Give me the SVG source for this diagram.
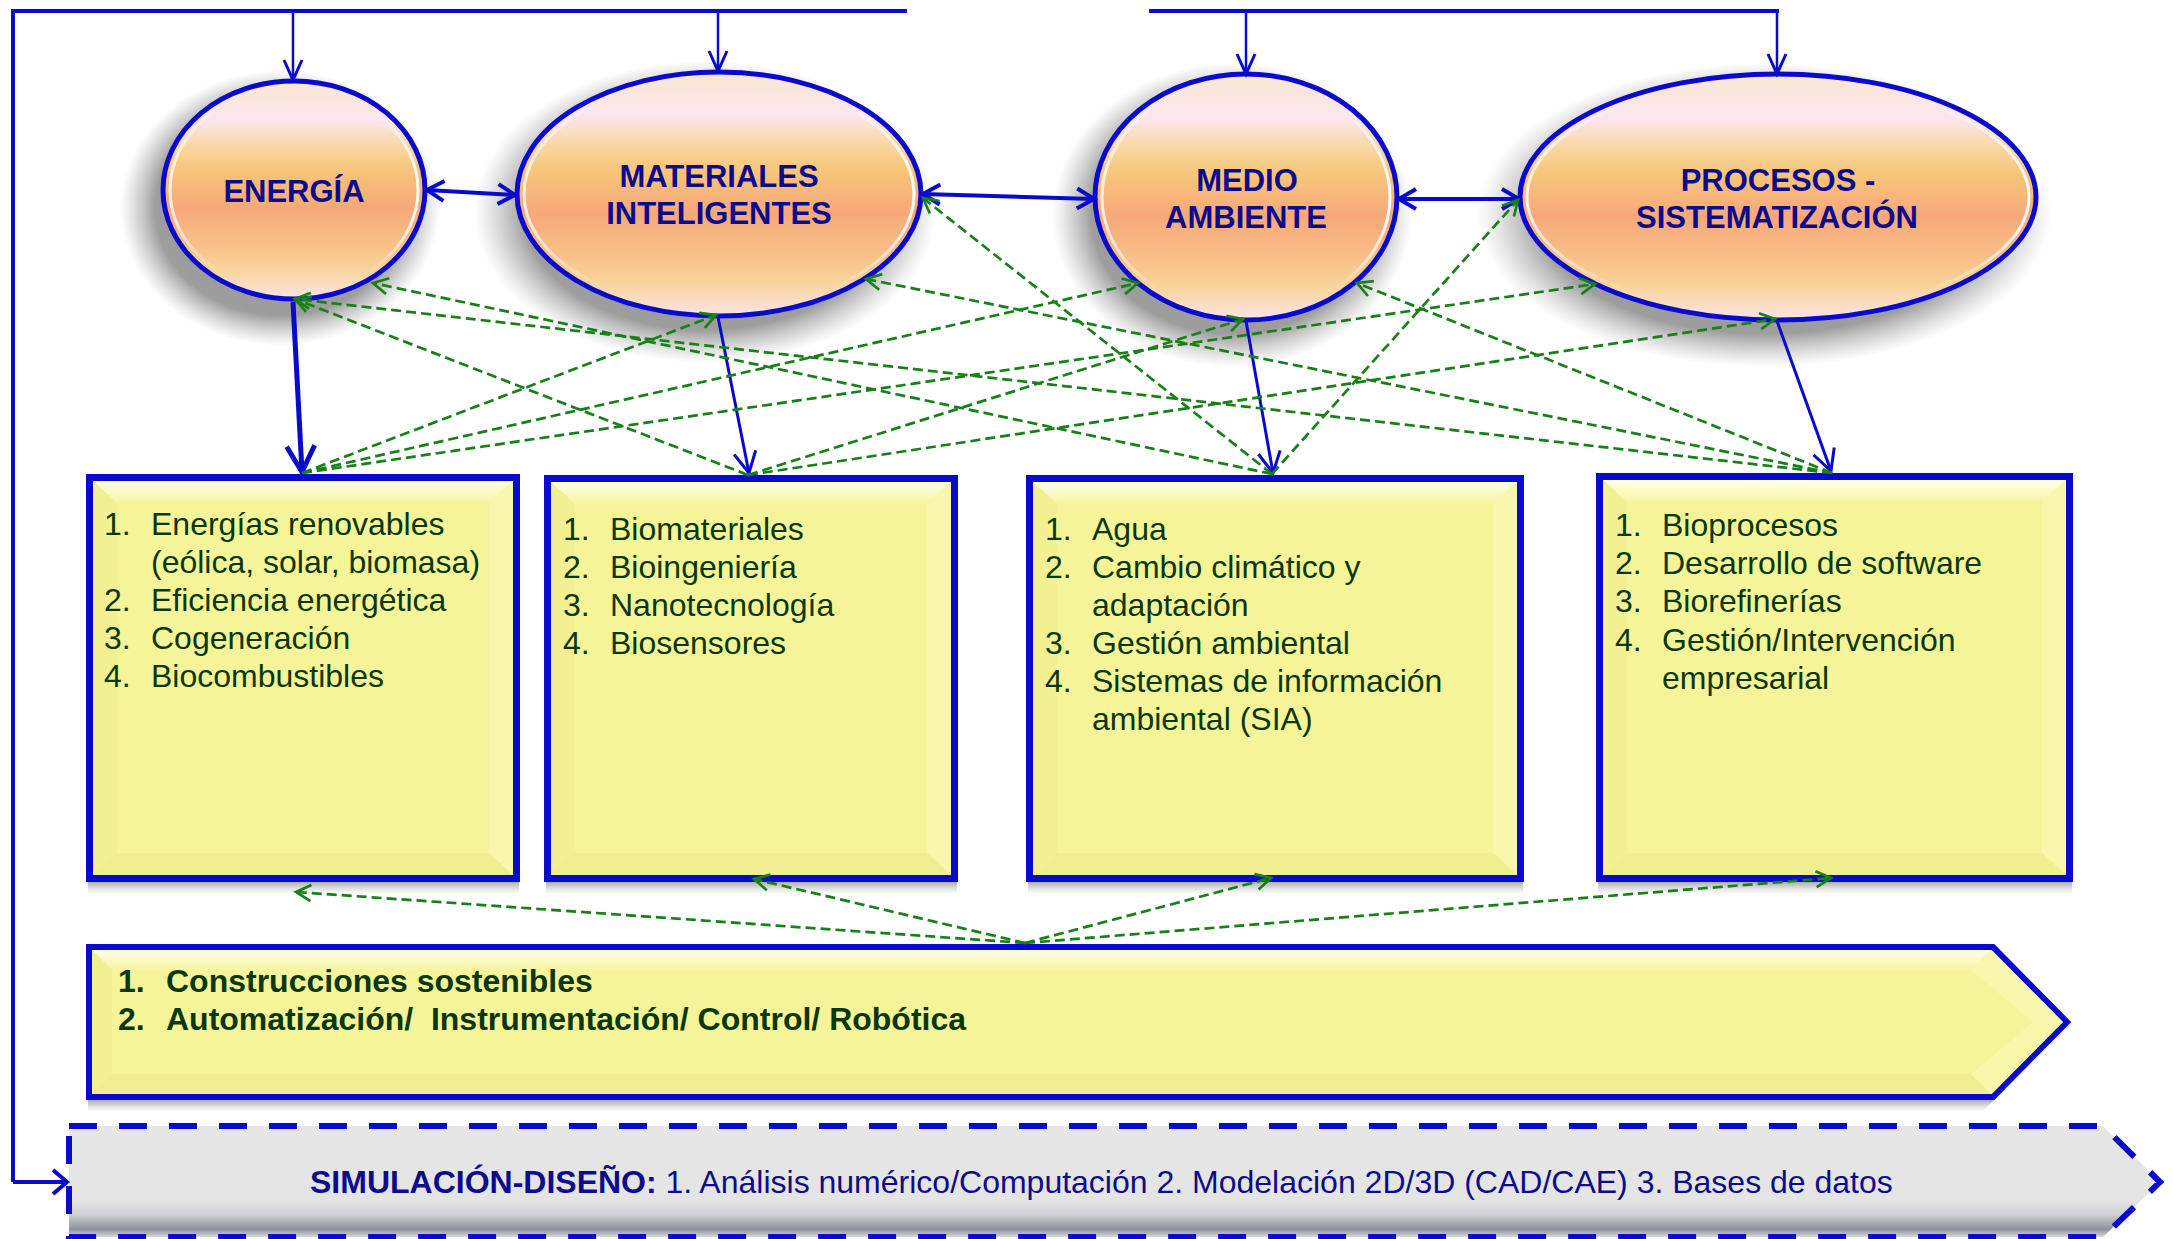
<svg xmlns="http://www.w3.org/2000/svg" width="2173" height="1239" viewBox="0 0 2173 1239">
<style>
.ell{stroke:#0A0ACC;stroke-width:5;fill:url(#gEll)}
.shd{fill:url(#gShd)}
.bshd{fill:url(#gBs)}
.hl{fill:none;stroke:url(#gHl);stroke-width:3}
.et{font-family:"Liberation Sans",Arial,sans-serif;font-weight:bold;font-size:31px;fill:#0C0C8A;text-anchor:middle}
.box{fill:#F5F498;stroke:#0A0ACC;stroke-width:7}
.bt{font-family:"Liberation Sans",Arial,sans-serif;font-size:32px;fill:#0A380A}
.bb{font-family:"Liberation Sans",Arial,sans-serif;font-size:32px;font-weight:bold;fill:#0A380A}
.bl{fill:#F2F093}
.br{fill:#F8F7AC}
.bbt{fill:#F0EE90}
.btp{fill:url(#gTop)}
.blue{fill:none;stroke:#0A0ACC}
.g{fill:none;stroke:#178017;stroke-width:2.7;stroke-dasharray:10 5;marker-end:url(#aG)}
.st{font-family:"Liberation Sans",Arial,sans-serif;font-size:32px;fill:#0C0C8C}
</style>
<defs>
<linearGradient id="gEll" x1="0" y1="0" x2="0" y2="1">
<stop offset="0" stop-color="#FAE6D2"/>
<stop offset="0.18" stop-color="#FCE6EE"/>
<stop offset="0.30" stop-color="#F9D7A2"/>
<stop offset="0.40" stop-color="#F8C67A"/>
<stop offset="0.58" stop-color="#F7A87A"/>
<stop offset="0.75" stop-color="#F8C088"/>
<stop offset="0.86" stop-color="#F8D49A"/>
<stop offset="1" stop-color="#FCE4E4"/>
</linearGradient>
<radialGradient id="gShd" cx="0.5" cy="0.5" r="0.5">
<stop offset="0" stop-color="#8c8c8c" stop-opacity="0.9"/>
<stop offset="0.78" stop-color="#8c8c8c" stop-opacity="0.85"/>
<stop offset="0.9" stop-color="#a0a0a0" stop-opacity="0.4"/>
<stop offset="1" stop-color="#b0b0b0" stop-opacity="0"/>
</radialGradient>
<linearGradient id="gBs" x1="0" y1="0" x2="0" y2="1">
<stop offset="0" stop-color="#8a8a8a" stop-opacity="0.7"/>
<stop offset="1" stop-color="#b0b0b0" stop-opacity="0"/>
</linearGradient>
<linearGradient id="gHl" x1="0" y1="0" x2="1" y2="0">
<stop offset="0" stop-color="#fff" stop-opacity="0.8"/>
<stop offset="0.2" stop-color="#fff" stop-opacity="0"/>
<stop offset="0.8" stop-color="#fff" stop-opacity="0"/>
<stop offset="1" stop-color="#fff" stop-opacity="0.95"/>
</linearGradient>
<linearGradient id="gTop" x1="0" y1="0" x2="0" y2="1">
<stop offset="0" stop-color="#FFFFE6"/>
<stop offset="1" stop-color="#F6F5A2"/>
</linearGradient>
<linearGradient id="gSim" x1="0" y1="0" x2="0" y2="1">
<stop offset="0" stop-color="#E6E6E6"/>
<stop offset="0.68" stop-color="#E4E4E4"/>
<stop offset="0.8" stop-color="#CFD0D4"/>
<stop offset="0.93" stop-color="#8C909C"/>
<stop offset="0.97" stop-color="#B8BABF"/>
<stop offset="1" stop-color="#D8D8D8"/>
</linearGradient>
<marker id="aTop" markerUnits="userSpaceOnUse" markerWidth="1" markerHeight="1" refX="0" refY="0" orient="auto" overflow="visible"><path d="M-20,-9 L0,0 L-20,9" fill="none" stroke="#0A0ACC" stroke-width="3"/></marker>
<marker id="aBi" markerUnits="userSpaceOnUse" markerWidth="1" markerHeight="1" refX="0" refY="0" orient="auto-start-reverse" overflow="visible"><path d="M-17,-10 L0,0 L-17,10" fill="none" stroke="#0A0ACC" stroke-width="4"/></marker>
<marker id="aBig" markerUnits="userSpaceOnUse" markerWidth="1" markerHeight="1" refX="0" refY="0" orient="auto" overflow="visible"><path d="M-26,-14 L0,0 L-26,14" fill="none" stroke="#0A0ACC" stroke-width="5"/></marker>
<marker id="aMid" markerUnits="userSpaceOnUse" markerWidth="1" markerHeight="1" refX="0" refY="0" orient="auto" overflow="visible"><path d="M-21,-11 L0,0 L-21,11" fill="none" stroke="#0A0ACC" stroke-width="3"/></marker>
<marker id="aSim" markerUnits="userSpaceOnUse" markerWidth="1" markerHeight="1" refX="0" refY="0" orient="auto" overflow="visible"><path d="M-14,-12 L0,0 L-14,12" fill="none" stroke="#0A0ACC" stroke-width="4"/></marker>
<marker id="aG" markerUnits="userSpaceOnUse" markerWidth="1" markerHeight="1" refX="0" refY="0" orient="auto" overflow="visible"><path d="M-15,-8 L0,0 L-15,8" fill="none" stroke="#178017" stroke-width="2.7"/></marker>
</defs>
<rect width="2173" height="1239" fill="#fff"/>

<!-- nodes -->
<g id="energia">
<ellipse class="shd" cx="280" cy="208" rx="160" ry="138"/>
<ellipse class="ell" cx="294" cy="190" rx="131" ry="109"/>
<ellipse class="hl" cx="294" cy="190" rx="124" ry="102"/>
<text class="et" x="294" y="202">ENERGÍA</text>
</g>
<g id="materiales">
<ellipse class="shd" cx="705" cy="212" rx="231" ry="151"/>
<ellipse class="ell" cx="719" cy="194" rx="202" ry="122"/>
<ellipse class="hl" cx="719" cy="194" rx="195" ry="115"/>
<text class="et" x="719" y="187">MATERIALES</text>
<text class="et" x="719" y="224">INTELIGENTES</text>
</g>
<g id="medio">
<ellipse class="shd" cx="1232" cy="215" rx="180" ry="152"/>
<ellipse class="ell" cx="1246" cy="197" rx="151" ry="123"/>
<ellipse class="hl" cx="1246" cy="197" rx="144" ry="116"/>
<text class="et" x="1247" y="191">MEDIO</text>
<text class="et" x="1246" y="228">AMBIENTE</text>
</g>
<g id="procesos">
<ellipse class="shd" cx="1764" cy="215" rx="287" ry="152"/>
<ellipse class="ell" cx="1778" cy="197" rx="258" ry="123"/>
<ellipse class="hl" cx="1778" cy="197" rx="251" ry="116"/>
<text class="et" x="1778" y="191">PROCESOS -</text>
<text class="et" x="1777" y="228">SISTEMATIZACIÓN</text>
</g>

<g id="box-energia">
<rect class="bshd" x="88" y="882" width="431" height="12"/>
<rect class="box" x="89.5" y="477.5" width="427" height="401"/>
<polygon class="btp" points="93,481 513,481 489,503 117,503"/>
<polygon class="bl" points="93,481 117,503 117,853 93,875"/>
<polygon class="br" points="513,481 513,875 489,853 489,503"/>
<polygon class="bbt" points="93,875 117,853 489,853 513,875"/>
<text class="bt" x="104" y="535">1.</text><text class="bt" x="151" y="535">Energías renovables</text>
<text class="bt" x="151" y="573">(eólica, solar, biomasa)</text>
<text class="bt" x="104" y="611">2.</text><text class="bt" x="151" y="611">Eficiencia energética</text>
<text class="bt" x="104" y="649">3.</text><text class="bt" x="151" y="649">Cogeneración</text>
<text class="bt" x="104" y="687">4.</text><text class="bt" x="151" y="687">Biocombustibles</text>
</g>
<g id="box-materiales">
<rect class="bshd" x="546" y="882" width="411" height="12"/>
<rect class="box" x="547.5" y="478.5" width="407" height="400"/>
<polygon class="btp" points="551,482 951,482 927,504 575,504"/>
<polygon class="bl" points="551,482 575,504 575,853 551,875"/>
<polygon class="br" points="951,482 951,875 927,853 927,504"/>
<polygon class="bbt" points="551,875 575,853 927,853 951,875"/>
<text class="bt" x="563" y="540">1.</text><text class="bt" x="610" y="540">Biomateriales</text>
<text class="bt" x="563" y="578">2.</text><text class="bt" x="610" y="578">Bioingeniería</text>
<text class="bt" x="563" y="616">3.</text><text class="bt" x="610" y="616">Nanotecnología</text>
<text class="bt" x="563" y="654">4.</text><text class="bt" x="610" y="654">Biosensores</text>
</g>
<g id="box-medio">
<rect class="bshd" x="1028" y="882" width="495" height="12"/>
<rect class="box" x="1029.5" y="478.5" width="491" height="400"/>
<polygon class="btp" points="1033,482 1517,482 1493,504 1057,504"/>
<polygon class="bl" points="1033,482 1057,504 1057,853 1033,875"/>
<polygon class="br" points="1517,482 1517,875 1493,853 1493,504"/>
<polygon class="bbt" points="1033,875 1057,853 1493,853 1517,875"/>
<text class="bt" x="1045" y="540">1.</text><text class="bt" x="1092" y="540">Agua</text>
<text class="bt" x="1045" y="578">2.</text><text class="bt" x="1092" y="578">Cambio climático y</text>
<text class="bt" x="1092" y="616">adaptación</text>
<text class="bt" x="1045" y="654">3.</text><text class="bt" x="1092" y="654">Gestión ambiental</text>
<text class="bt" x="1045" y="692">4.</text><text class="bt" x="1092" y="692">Sistemas de información</text>
<text class="bt" x="1092" y="730">ambiental (SIA)</text>
</g>
<g id="box-procesos">
<rect class="bshd" x="1598" y="882" width="474" height="12"/>
<rect class="box" x="1599.5" y="476.5" width="470" height="402"/>
<polygon class="btp" points="1603,480 2066,480 2042,502 1627,502"/>
<polygon class="bl" points="1603,480 1627,502 1627,853 1603,875"/>
<polygon class="br" points="2066,480 2066,875 2042,853 2042,502"/>
<polygon class="bbt" points="1603,875 1627,853 2042,853 2066,875"/>
<text class="bt" x="1615" y="536">1.</text><text class="bt" x="1662" y="536">Bioprocesos</text>
<text class="bt" x="1615" y="574">2.</text><text class="bt" x="1662" y="574">Desarrollo de software</text>
<text class="bt" x="1615" y="612">3.</text><text class="bt" x="1662" y="612">Biorefinerías</text>
<text class="bt" x="1615" y="651">4.</text><text class="bt" x="1662" y="651">Gestión/Intervención</text>
<text class="bt" x="1662" y="689">empresarial</text>
</g>

<g id="transversal">
<polygon class="bshd" points="88,1100 1994,1100 1982,1112 88,1112"/>
<polygon points="89,947 1993,947 2067,1022 1993,1097 89,1097" fill="#F5F498" stroke="#0A0ACC" stroke-width="6"/>
<polygon class="btp" points="92,950 1991,950 1971,970 112,970"/>
<polygon class="bl" points="92,950 112,970 112,1074 92,1094"/>
<polygon class="bbt" points="92,1094 112,1074 1971,1074 1991,1094"/>
<polygon class="br" points="1991,950 2063,1022 1991,1094 1971,1074 2033,1022 1971,970"/>
<text class="bb" x="118" y="992">1.</text><text class="bb" x="166" y="992">Construcciones sostenibles</text>
<text class="bb" x="118" y="1030">2.</text><text class="bb" x="166" y="1030" xml:space="preserve">Automatización/  Instrumentación/ Control/ Robótica</text>
</g>

<g id="simulacion">
<polygon points="69,1126 2103,1126 2160,1182 2103,1237 69,1237" fill="url(#gSim)" stroke="#0A0ACC" stroke-width="6" stroke-dasharray="28 22"/>
<text class="st" x="310" y="1193"><tspan font-weight="bold">SIMULACIÓN-DISEÑO:</tspan> 1. Análisis numérico/Computación 2. Modelación 2D/3D (CAD/CAE) 3. Bases de datos</text>
</g>

<!-- connectors -->
<g id="connectors">
<polyline class="blue" stroke-width="4" points="907,11 13,11 13,1182"/>
<polyline class="blue" stroke-width="4" points="13,1182 67,1182" marker-end="url(#aSim)"/>
<line class="blue" stroke-width="4" x1="1149" y1="11" x2="1779" y2="11"/>
<line class="blue" stroke-width="2.5" x1="293" y1="11" x2="293" y2="80" marker-end="url(#aTop)"/>
<line class="blue" stroke-width="2.5" x1="718" y1="11" x2="718" y2="71" marker-end="url(#aTop)"/>
<line class="blue" stroke-width="2.5" x1="1246" y1="11" x2="1246" y2="74" marker-end="url(#aTop)"/>
<line class="blue" stroke-width="2.5" x1="1777" y1="11" x2="1777" y2="74" marker-end="url(#aTop)"/>

<line class="blue" stroke-width="4" x1="427" y1="190" x2="515" y2="195" marker-start="url(#aBi)" marker-end="url(#aBi)"/>
<line class="blue" stroke-width="4" x1="923" y1="194" x2="1094" y2="199" marker-start="url(#aBi)" marker-end="url(#aBi)"/>
<line class="blue" stroke-width="4" x1="1399" y1="199" x2="1519" y2="199" marker-start="url(#aBi)" marker-end="url(#aBi)"/>

<line class="blue" stroke-width="5" x1="293" y1="302" x2="302" y2="472" marker-end="url(#aBig)"/>
<line class="blue" stroke-width="3" x1="718" y1="317" x2="749" y2="473" marker-end="url(#aMid)"/>
<line class="blue" stroke-width="3" x1="1246" y1="321" x2="1273" y2="473" marker-end="url(#aMid)"/>
<line class="blue" stroke-width="3" x1="1777" y1="321" x2="1831" y2="471" marker-end="url(#aMid)"/>

<line class="g" x1="302" y1="473" x2="716" y2="315"/>
<line class="g" x1="302" y1="473" x2="1138" y2="283"/>
<line class="g" x1="302" y1="473" x2="1595" y2="284"/>
<line class="g" x1="748" y1="475" x2="295" y2="299"/>
<line class="g" x1="748" y1="475" x2="1243" y2="319"/>
<line class="g" x1="748" y1="475" x2="1775" y2="319"/>
<line class="g" x1="1272" y1="474" x2="373" y2="283"/>
<line class="g" x1="1272" y1="474" x2="923" y2="198"/>
<line class="g" x1="1272" y1="474" x2="1518" y2="200"/>
<line class="g" x1="1832" y1="473" x2="295" y2="299"/>
<line class="g" x1="1832" y1="473" x2="866" y2="279"/>
<line class="g" x1="1832" y1="473" x2="1357" y2="283"/>

<line class="g" x1="1025" y1="943" x2="296" y2="892"/>
<line class="g" x1="1025" y1="943" x2="754" y2="879"/>
<line class="g" x1="1025" y1="943" x2="1271" y2="878"/>
<line class="g" x1="1025" y1="943" x2="1831" y2="878"/>
</g>
</svg>
